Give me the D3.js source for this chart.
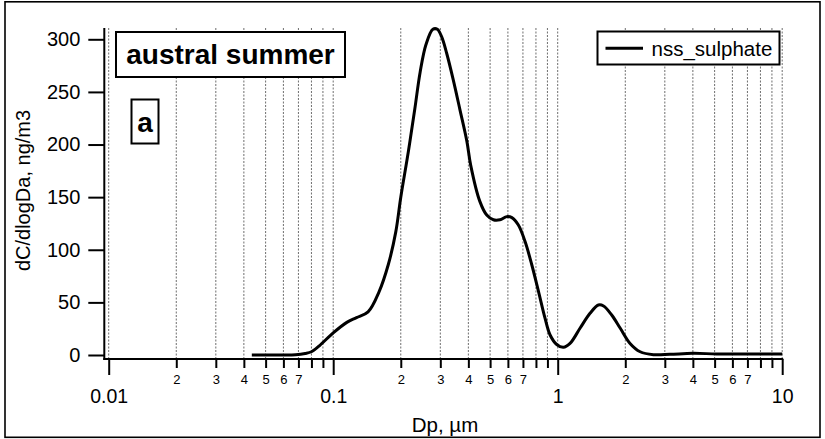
<!DOCTYPE html>
<html>
<head>
<meta charset="utf-8">
<script src="https://cdn.jsdelivr.net/npm/d3@7"></script>
<style>
  html, body { margin: 0; padding: 0; background: #fff; }
  svg { display: block; }
  text { font-family: "Liberation Sans", Arial, Helvetica, sans-serif; fill: #000; }
</style>
</head>
<body>
<svg id="chart" width="825" height="439"></svg>
<script>
// Size distribution of nss sulphate (dC/dlogDa vs particle diameter)
const diameters = [0.0434, 0.05, 0.06, 0.068, 0.075, 0.08, 0.087, 0.1, 0.115, 0.127,
  0.143, 0.16, 0.176, 0.19, 0.2, 0.216, 0.231, 0.244, 0.259, 0.278,
  0.291, 0.304, 0.32, 0.343, 0.367, 0.394, 0.41, 0.45, 0.483, 0.517,
  0.553, 0.593, 0.625, 0.668, 0.715, 0.766, 0.82, 0.878, 0.925, 0.99,
  1.06, 1.135, 1.257, 1.393, 1.518, 1.6, 1.74, 1.9, 2.1, 2.33,
  2.67, 3.16, 4.0, 5.1, 7.0, 10];
const nssSulphate = [0, 0, 0, 0.3, 1.5, 3.1, 9, 21, 31, 35.5,
  41, 60, 86, 117, 150, 193, 234, 269, 295, 309.5,
  309.5, 302.5, 287, 261, 233, 203, 180, 146, 133, 128.5,
  128.5, 131.5, 130.5, 123.5, 108, 86, 61, 35, 19, 10,
  7.3, 11, 25.4, 39.6, 47.5, 46.6, 38, 25.4, 11, 3.1,
  0.3, 0.6, 1.6, 1, 1, 1];

const yTicks = [0, 50, 100, 150, 200, 250, 300];
const majorTicks = [0.01, 0.1, 1, 10];
const minorTicks = [];
[0.01, 0.1, 1].forEach(d => { for (let k = 2; k <= 9; k++) minorTicks.push(+(d * k).toPrecision(3)); });
const minorLabelled = [2, 3, 4, 5, 6, 7];

const seriesName = "nss_sulphate";
const titleText = "austral summer";
const panelText = "a";
const xTitle = "Dp, µm";
const yTitle = "dC/dlogDa, ng/m3";

const svg = d3.select("#chart");

const x = d3.scaleLog().domain([0.01, 10]).range([108.7, 782.2]);
const y = d3.scaleLinear().domain([0, 300]).range([355, 39.3]);

const axisLeftX = 104.3, axisBottomY = 359, plotTop = 28;

// outer frame
svg.append("rect")
  .attr("x", 5).attr("y", 1.8).attr("width", 815).attr("height", 435.5)
  .attr("fill", "none").attr("stroke", "#000").attr("stroke-width", 1.6);

// vertical grid at every decade subdivision
svg.append("g").selectAll("line")
  .data(majorTicks.concat(minorTicks))
  .join("line")
  .attr("x1", d => x(d)).attr("x2", d => x(d))
  .attr("y1", plotTop).attr("y2", axisBottomY)
  .attr("stroke", "#6e6e6e").attr("stroke-width", 1)
  .attr("stroke-dasharray", "2,1.5");

// curve
const line = d3.line()
  .x((d, i) => x(diameters[i]))
  .y(d => y(d))
  .curve(d3.curveCatmullRom.alpha(0.5));
svg.append("path")
  .datum(nssSulphate)
  .attr("d", line)
  .attr("fill", "none").attr("stroke", "#000")
  .attr("stroke-width", 3).attr("stroke-linejoin", "round");

// left axis
const yAxis = d3.axisLeft(y).tickValues(yTicks).tickSize(16).tickPadding(8).tickSizeOuter(0);
const gy = svg.append("g").attr("transform", `translate(${axisLeftX},0)`).call(yAxis);
gy.select(".domain").remove();
gy.selectAll(".tick line").attr("stroke-width", 2);
gy.selectAll(".tick text").attr("font-size", 20).style("font-family", "Liberation Sans, Arial, sans-serif");
svg.append("line")
  .attr("x1", axisLeftX).attr("x2", axisLeftX)
  .attr("y1", plotTop).attr("y2", axisBottomY + 1)
  .attr("stroke", "#000").attr("stroke-width", 2);

// bottom axis: minor ticks
const xMinor = d3.axisBottom(x).tickValues(minorTicks).tickSize(9).tickPadding(6.5).tickSizeOuter(0)
  .tickFormat(d => {
    const m = Math.round(d / Math.pow(10, Math.floor(Math.log10(d) + 1e-9)));
    return minorLabelled.includes(m) ? String(m) : "";
  });
const gxm = svg.append("g").attr("transform", `translate(0,${axisBottomY})`).call(xMinor);
gxm.select(".domain").remove();
gxm.selectAll(".tick line").attr("stroke-width", 2);
gxm.selectAll(".tick text").attr("font-size", 13).style("font-family", "Liberation Sans, Arial, sans-serif");

// bottom axis: decades
const xMajor = d3.axisBottom(x).tickValues(majorTicks).tickSize(16).tickPadding(14).tickSizeOuter(0)
  .tickFormat(d => String(d));
const gxM = svg.append("g").attr("transform", `translate(0,${axisBottomY})`).call(xMajor);
gxM.select(".domain").remove();
gxM.selectAll(".tick line").attr("stroke-width", 2);
gxM.selectAll(".tick text").attr("font-size", 19.5).style("font-family", "Liberation Sans, Arial, sans-serif");
svg.append("line")
  .attr("x1", axisLeftX - 1).attr("x2", x(10) + 1)
  .attr("y1", axisBottomY).attr("y2", axisBottomY)
  .attr("stroke", "#000").attr("stroke-width", 2);

// axis titles
svg.append("text")
  .attr("x", 445).attr("y", 431.5)
  .attr("text-anchor", "middle").attr("font-size", 20.5)
  .text(xTitle);
svg.append("text")
  .attr("transform", "translate(29.5,190.5) rotate(-90)")
  .attr("text-anchor", "middle").attr("font-size", 20)
  .text(yTitle);

// title box
svg.append("rect")
  .attr("x", 116).attr("y", 32).attr("width", 229).attr("height", 45)
  .attr("fill", "#fff").attr("stroke", "#000").attr("stroke-width", 2);
svg.append("text")
  .attr("x", 230.5).attr("y", 64).attr("text-anchor", "middle")
  .attr("font-size", 28).attr("font-weight", "bold")
  .text(titleText);

// panel letter box
svg.append("rect")
  .attr("x", 131.5).attr("y", 99.5).attr("width", 27).attr("height", 44)
  .attr("fill", "#fff").attr("stroke", "#000").attr("stroke-width", 2);
svg.append("text")
  .attr("x", 145).attr("y", 131.5).attr("text-anchor", "middle")
  .attr("font-size", 28).attr("font-weight", "bold")
  .text(panelText);

// legend
svg.append("rect")
  .attr("x", 597.5).attr("y", 31.5).attr("width", 182).attr("height", 33)
  .attr("fill", "#fff").attr("stroke", "#000").attr("stroke-width", 2);
svg.append("line")
  .attr("x1", 605.5).attr("x2", 643).attr("y1", 48.3).attr("y2", 48.3)
  .attr("stroke", "#000").attr("stroke-width", 3);
svg.append("text")
  .attr("x", 651.5).attr("y", 55.5).attr("font-size", 20.5)
  .text(seriesName);
</script>
</body>
</html>
